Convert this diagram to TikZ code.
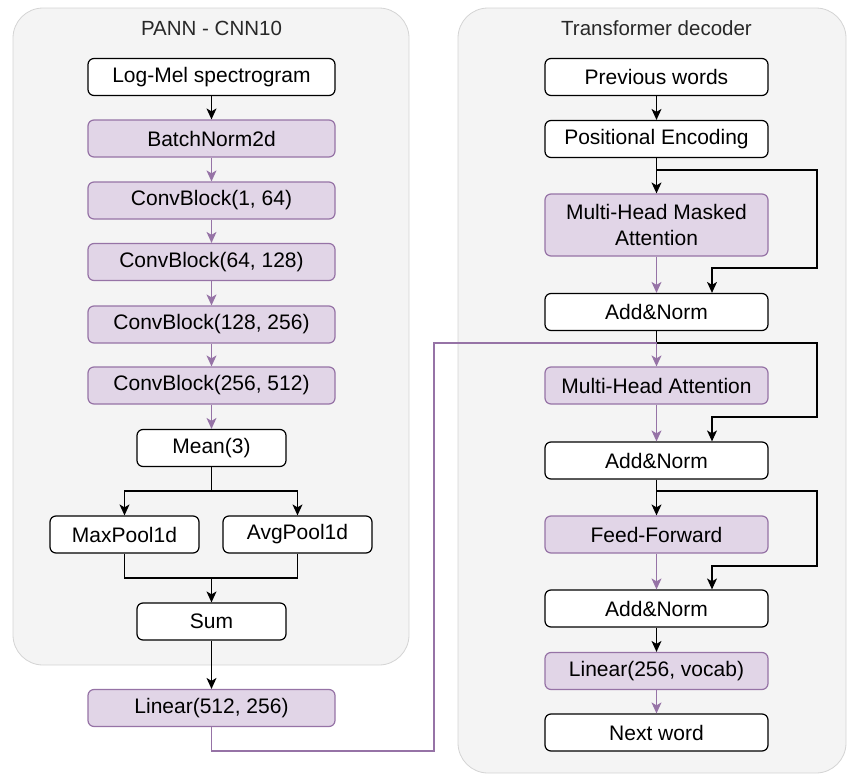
\documentclass[tikz,border=0pt]{standalone}
\usepackage{fontspec}
\setmainfont{Liberation Sans}
\usepackage{tikz}
\usetikzlibrary{arrows.meta, positioning, calc}
\definecolor{panelgray}{RGB}{244, 244, 244}
\definecolor{panelline}{RGB}{212, 212, 212}
\definecolor{layerfill}{RGB}{225, 213, 231}
\definecolor{layerline}{RGB}{150, 115, 166}
\definecolor{titlegray}{RGB}{40, 40, 40}

\tikzset{
  panel/.style={draw=panelline, fill=panelgray, rounded corners=30pt, line width=0.8pt},
  paneltitle/.style={text=titlegray, font=\fontsize{20.5}{24}\selectfont},
  iobox/.style={draw=black, fill=white, rounded corners=6pt, line width=1.2pt,
    minimum height=37pt, inner sep=0pt, align=center, font=\fontsize{21}{26}\selectfont},
  layer/.style={iobox, draw=layerline, fill=layerfill},
  flow/.style={-{Stealth[length=11pt, width=10pt, inset=3pt]}, line width=1.2pt},
  pflow/.style={flow, draw=layerline},
  wire/.style={line width=1.2pt}
}

\begin{document}
\begin{tikzpicture}[x=1pt, y=-1pt]
  \useasboundingbox (0, 0) rectangle (847, 774);
  % Panels
  \draw[panel] (13, 8) rectangle (409, 665);
  \draw[panel] (458, 8) rectangle (846, 773);
  \node[paneltitle] (panntitle) at (211.5, 28) {PANN - CNN10};
  \node[paneltitle] (dectitle) at (656.5, 28) {Transformer decoder};

  % Encoder column
  \node[iobox, minimum width=247pt] (logmel) at (211.5, 77) {Log-Mel spectrogram};
  \node[layer, minimum width=247pt] (batchnorm) at (211.5, 138.5) {BatchNorm2d};
  \node[layer, minimum width=247pt] (convA) at (211.5, 200.5) {ConvBlock(1, 64)};
  \node[layer, minimum width=247pt] (convB) at (211.5, 262) {ConvBlock(64, 128)};
  \node[layer, minimum width=247pt] (convC) at (211.5, 324.5) {ConvBlock(128, 256)};
  \node[layer, minimum width=247pt] (convD) at (211.5, 385.5) {ConvBlock(256, 512)};
  \node[iobox, minimum width=149pt] (mean) at (211.5, 448) {Mean(3)};
  \node[iobox, minimum width=149pt] (maxpool) at (124.5, 534.5) {MaxPool1d};
  \node[iobox, minimum width=149pt] (avgpool) at (297.5, 534.5) {AvgPool1d};
  \node[iobox, minimum width=149pt] (sum) at (211.5, 621.5) {Sum};
  \node[layer, minimum width=247pt] (linearA) at (211.5, 708) {Linear(512, 256)};

  % Decoder column
  \node[iobox, minimum width=223pt] (prev) at (656.5, 77) {Previous words};
  \node[iobox, minimum width=223pt] (posenc) at (656.5, 139) {Positional Encoding};
  \node[layer, minimum width=223pt, minimum height=62pt] (mhma) at (656.5, 225) {Multi-Head Masked\\Attention};
  \node[iobox, minimum width=223pt] (addnormA) at (656.5, 312) {Add\&Norm};
  \node[layer, minimum width=223pt] (mha) at (656.5, 385.5) {Multi-Head Attention};
  \node[iobox, minimum width=223pt] (addnormB) at (656.5, 460.5) {Add\&Norm};
  \node[layer, minimum width=223pt] (ff) at (656.5, 534.5) {Feed-Forward};
  \node[iobox, minimum width=223pt] (addnormC) at (656.5, 608.5) {Add\&Norm};
  \node[layer, minimum width=223pt] (linearB) at (656.5, 671) {Linear(256, vocab)};
  \node[iobox, minimum width=223pt] (next) at (656.5, 732.5) {Next word};

  % Junction points
  \coordinate (split) at (211.5, 491);
  \coordinate (merge) at (211.5, 578);
  \coordinate (busbot) at (434, 751);
  \coordinate (skipA) at (656.5, 170);
  \coordinate (skipB) at (656.5, 343);
  \coordinate (skipC) at (656.5, 491);
  \coordinate (railA) at (817, 268);
  \coordinate (railB) at (817, 417);
  \coordinate (railC) at (817, 566);

  % Encoder connectors
  \draw[flow] (logmel) -- (batchnorm);
  \draw[pflow] (batchnorm) -- (convA);
  \draw[pflow] (convA) -- (convB);
  \draw[pflow] (convB) -- (convC);
  \draw[pflow] (convC) -- (convD);
  \draw[pflow] (convD) -- (mean);
  \draw[wire] (mean) -- (split);
  \draw[flow] (split) -| (maxpool);
  \draw[flow] (split) -| (avgpool);
  \draw[wire] (maxpool) |- (merge);
  \draw[wire] (avgpool) |- (merge);
  \draw[flow] (merge) -- (sum);
  \draw[flow] (sum) -- (linearA);

  % Encoder output into the decoder
  \draw[wire] (addnormA) -- (skipB);
  \draw[pflow] (linearA) |- (busbot) |- (skipB) -- (mha);

  % Decoder connectors
  \draw[flow] (prev) -- (posenc);
  \draw[flow] (posenc) -- (mhma);
  \draw[pflow] (mhma) -- (addnormA);
  \draw[pflow] (mha) -- (addnormB);
  \draw[flow] (addnormB) -- (ff);
  \draw[pflow] (ff) -- (addnormC);
  \draw[flow] (addnormC) -- (linearB);
  \draw[pflow] (linearB) -- (next);

  % Residual paths
  \draw[flow] (skipA) -| (railA) -| ([xshift=55.5pt]addnormA.north);
  \draw[flow] (skipB) -| (railB) -| ([xshift=55.5pt]addnormB.north);
  \draw[flow] (skipC) -| (railC) -| ([xshift=55.5pt]addnormC.north);
\end{tikzpicture}
\end{document}
